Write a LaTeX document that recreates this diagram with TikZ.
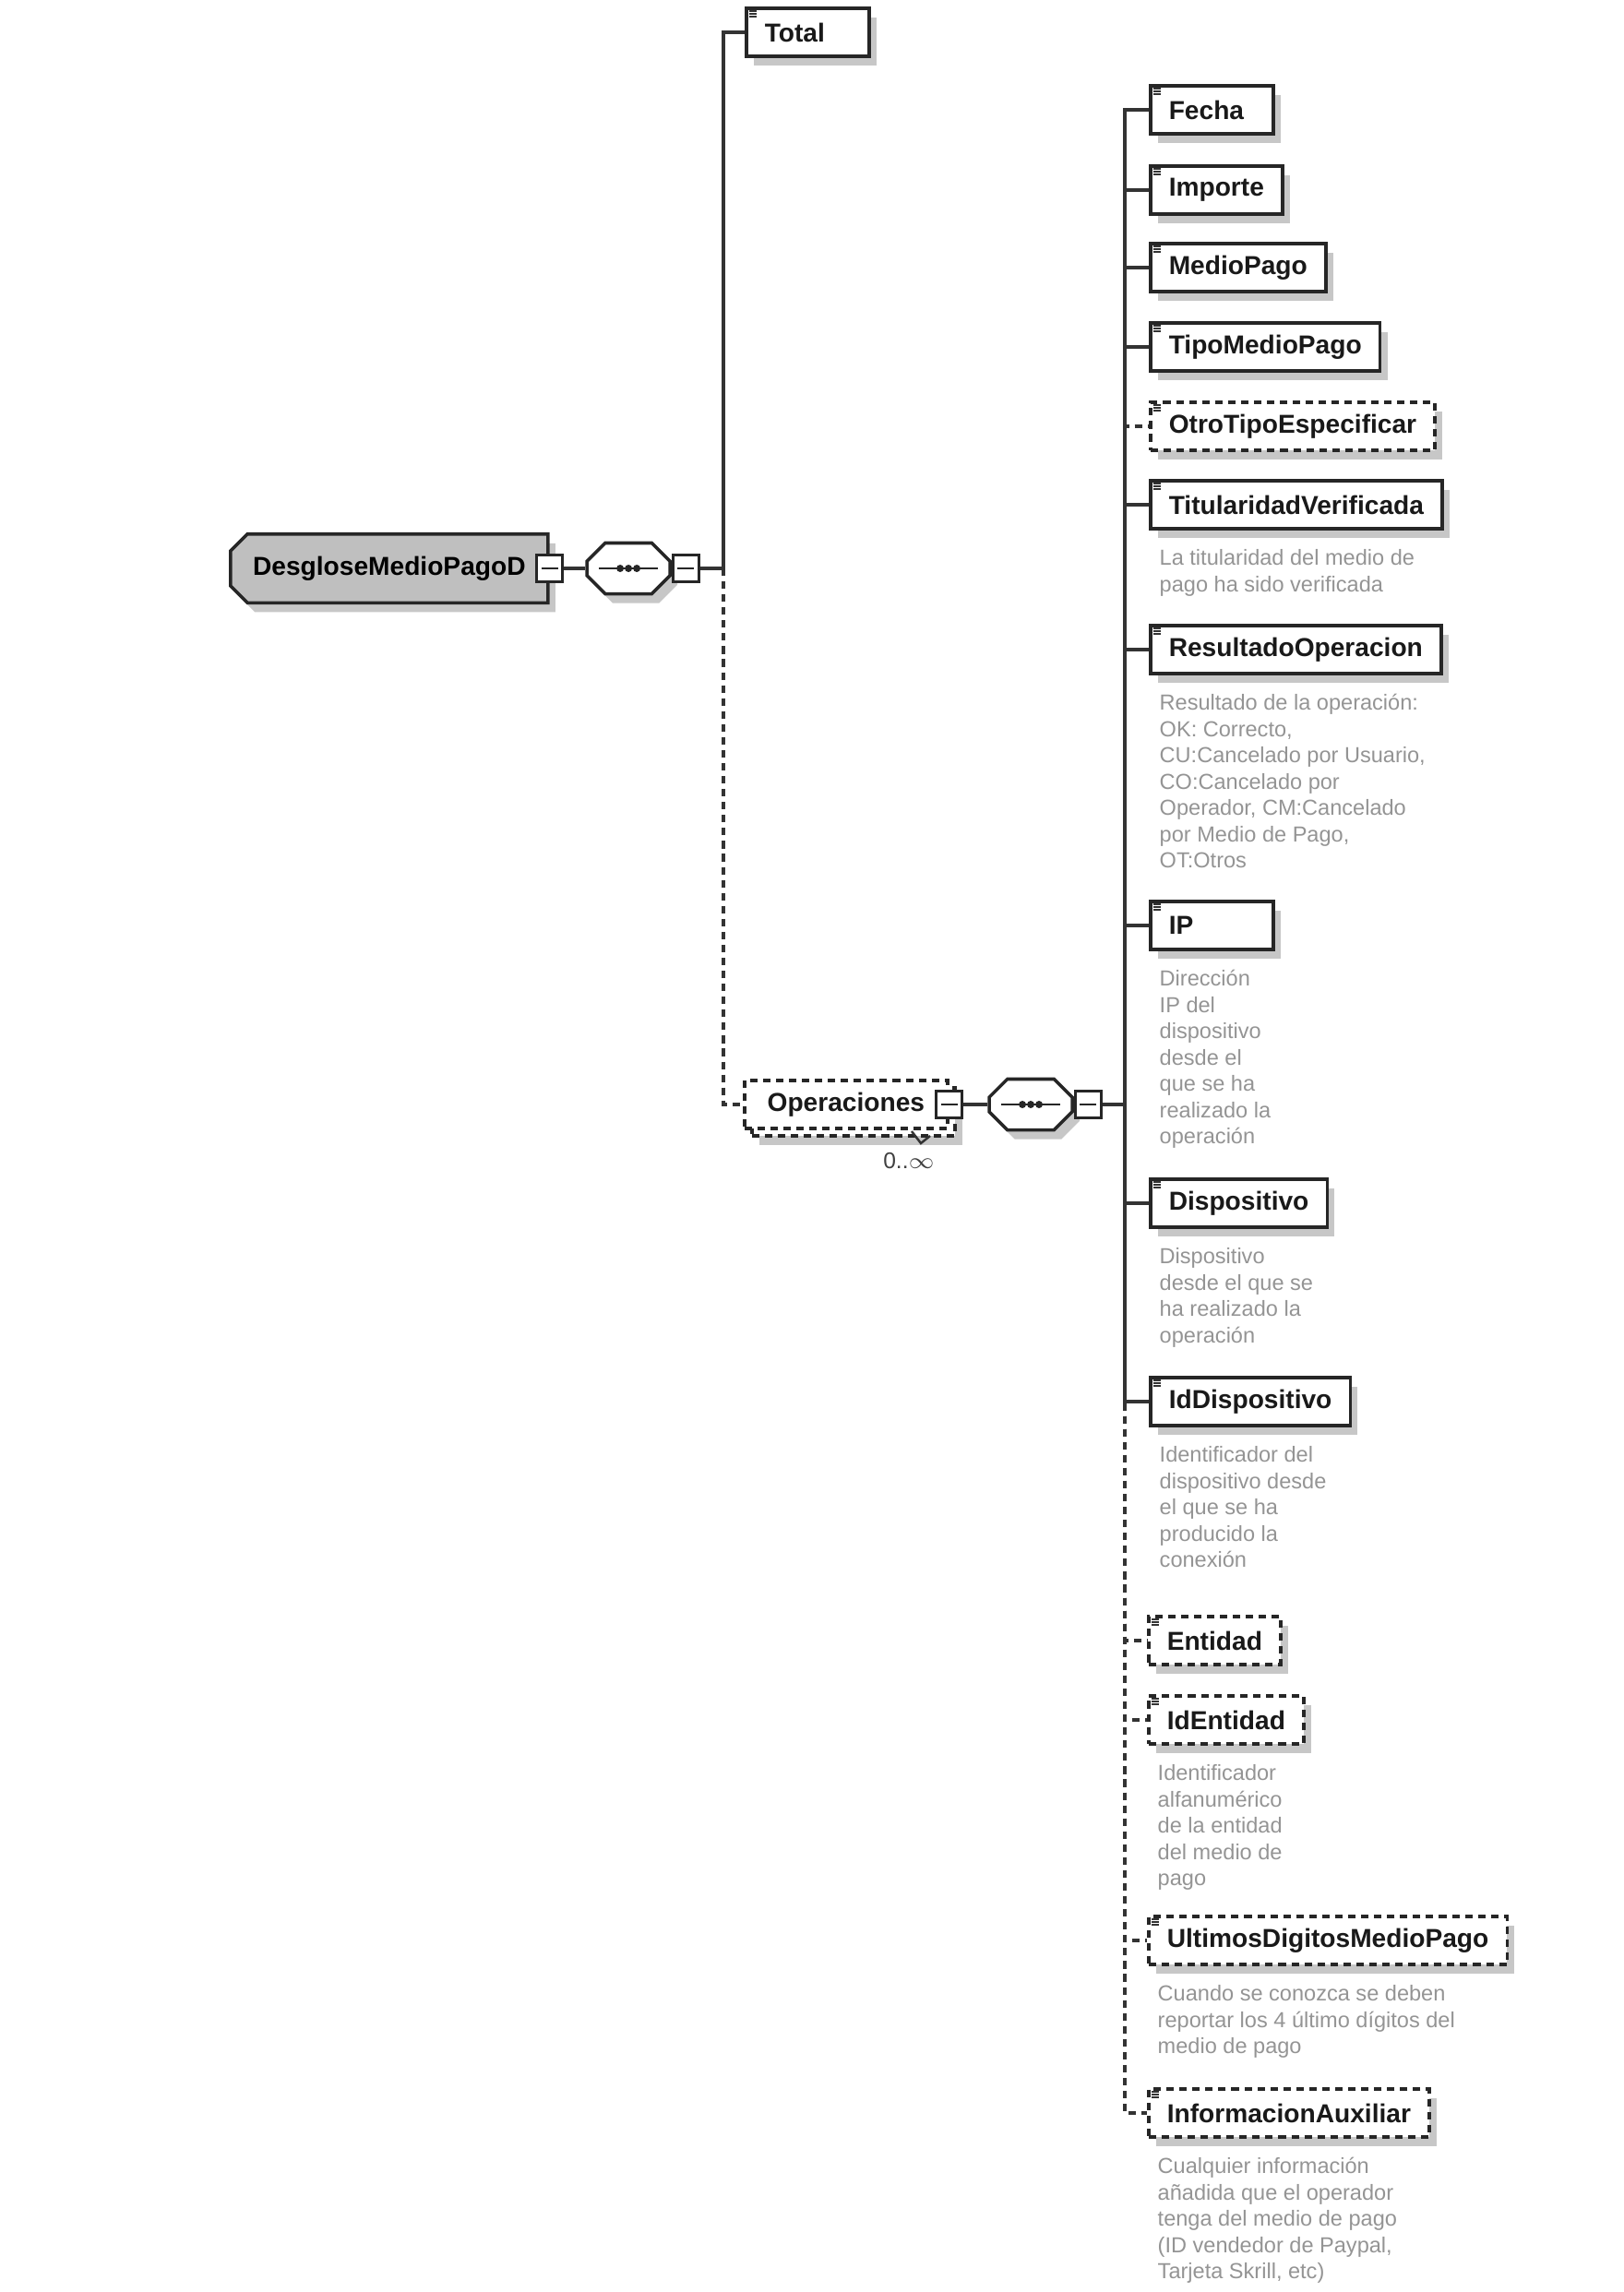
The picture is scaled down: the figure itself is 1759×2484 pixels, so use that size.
\documentclass[tikz,border=0pt]{standalone}
\usepackage{fontspec}
\setmainfont{Liberation Sans}
\usetikzlibrary{positioning, shapes.misc, shadows}

\begin{document}
\begin{tikzpicture} [x=0.01cm, y=-0.01cm,
		% define styles
		boxbase/.style={
			% The shape:
			rectangle,
			% The size:
			minimum height=0.52cm,
			minimum width=1.33cm,
			inner xsep=0.2cm,
			% The border:
			line width=1pt,
			draw=black!85,
			% The filling:
			fill=white,
			% Font
			text=black!90,
			font=\bfseries\fontsize{8}{9}\selectfont
		},
		shadowed/.style={
			drop shadow={shadow xshift=0.08cm, shadow yshift=-0.1cm, fill=black!22, opacity=1}
		},
		elemstyle/.style={boxbase, shadowed},
		optstyle/.style={
			elemstyle,
			dash pattern=on 2.3pt off 1.7pt
		},
		shortstyle/.style={text width=0.93cm},
		rootstyle/.style={
			% The shape:
			chamfered rectangle,
			chamfered rectangle corners={north west, south west},
			chamfered rectangle xsep=0.06cm,
			% The size:
			minimum height=0.55cm,
			minimum width=3.44cm,
			% The border:
			line width=1pt,
			draw=black!85,
			% The filling:
			fill=black!25,
			shadowed,
			% Font
			font=\bfseries\fontsize{8}{9}\selectfont
		},
		seqstyle/.style={
			% The shape:
			chamfered rectangle,
			chamfered rectangle xsep=0.08cm,
			% The size:
			minimum height=0.55cm,
			minimum width=0.9cm,
			% The border:
			line width=1pt,
			draw=black!85,
			fill=white,
			shadowed,
			% the dotted line inside
			path picture={
				\draw [line width=0.7pt] ([xshift=0.13cm]path picture bounding box.west) -- ([xshift=-0.13cm]path picture bounding box.east);
				\foreach \dx in {-0.09,0,0.09}
					\fill [black!85] ([xshift=\dx cm]path picture bounding box.center) circle [radius=0.04cm];
			}
		},
		minusstyle/.style={
			rectangle,
			minimum width=0.28cm,
			minimum height=0.29cm,
			inner sep=0pt,
			line width=0.9pt,
			draw=black!85,
			fill=white,
			path picture={
				\draw [line width=0.8pt] ([xshift=0.05cm]path picture bounding box.west) -- ([xshift=-0.05cm]path picture bounding box.east);
			}
		},
		descstyle/.style={
			inner sep=0pt,
			align=left,
			text=black!42,
			font=\fontsize{6.7}{8.1}\selectfont
		},
		conn/.style={
			line width=0.9pt,
			black!80
		},
		optconn/.style={
			conn,
			dash pattern=on 2.3pt off 1.7pt
		}]
		% end of style definition

		\useasboundingbox (0,0) rectangle (1759,2484);

		% draw nodes
		\node (iRoot) [rootstyle, anchor=west] at (248,616) {DesgloseMedioPagoD};
		\node (iRootMinus) [minusstyle] at (iRoot.east) {};
		\node (iSeqA) [seqstyle, right=0.23cm of iRootMinus] {};
		\node (iSeqAMinus) [minusstyle, anchor=west] at (iSeqA.east) {};

		\node (iTotal) [elemstyle, shortstyle, anchor=west] at (807,35) {Total};

		% repeated element: box behind, then the front one
		\node (iOperBack) [boxbase, shadowed, dash pattern=on 2.3pt off 1.7pt, anchor=west, minimum width=2.2cm] at (813,1205) {\phantom{Operaciones}};
		\node (iOperaciones) [boxbase, dash pattern=on 2.3pt off 1.7pt, anchor=west, minimum width=2.2cm] at (805,1197) {Operaciones};
		\node (iOperMinus) [minusstyle] at (iOperaciones.east) {};
		\node (iOperCount) [text=black!75, font=\fontsize{7}{8}\selectfont] at (985,1258) {0..$\infty$};
		\draw [line width=0.7pt, black!80] (988,1226) -- (998,1239) -- (1008,1231);

		\node (iSeqB) [seqstyle, right=0.26cm of iOperMinus] {};
		\node (iSeqBMinus) [minusstyle, anchor=west] at (iSeqB.east) {};

		\node (iFecha) [elemstyle, shortstyle, anchor=west] at (1245,119) {Fecha};
		\node (iImporte) [elemstyle, anchor=west] at (1245,206) {Importe};
		\node (iMedioPago) [elemstyle, anchor=west] at (1245,290) {MedioPago};
		\node (iTipoMedioPago) [elemstyle, anchor=west] at (1245,376) {TipoMedioPago};
		\node (iOtroTipo) [optstyle, anchor=west] at (1245,462) {OtroTipoEspecificar};
		\node (iTitularidad) [elemstyle, anchor=west] at (1245,547) {TitularidadVerificada};
		\node (iResultado) [elemstyle, anchor=west] at (1245,704) {ResultadoOperacion};
		\node (iIP) [elemstyle, shortstyle, anchor=west] at (1245,1003) {IP};
		\node (iDispositivo) [elemstyle, anchor=west] at (1245,1304) {Dispositivo};
		\node (iIdDispositivo) [elemstyle, anchor=west] at (1245,1519) {IdDispositivo};
		\node (iEntidad) [optstyle, anchor=west] at (1243,1778) {Entidad};
		\node (iIdEntidad) [optstyle, anchor=west] at (1243,1864) {IdEntidad};
		\node (iUltimos) [optstyle, anchor=west] at (1243,2103) {UltimosDigitosMedioPago};
		\node (iInfoAux) [optstyle, anchor=west] at (1243,2290) {InformacionAuxiliar};

		% small icons in the corner of the boxes
		\foreach \n in {iTotal, iFecha, iImporte, iMedioPago, iTipoMedioPago, iOtroTipo, iTitularidad, iResultado, iIP, iDispositivo, iIdDispositivo, iEntidad, iIdEntidad, iUltimos, iInfoAux} {
			\foreach \dy in {5,8,11}
				\draw [line width=0.5pt, black!80] ([shift={(5,\dy)}]\n.north west) -- ++(8,0);
		}

		% annotations
		\node (dTitularidad) [descstyle, below right=0.2cm and 0.11cm of iTitularidad.south west] {La titularidad del medio de\\pago ha sido verificada};
		\node (dResultado) [descstyle, below right=0.2cm and 0.11cm of iResultado.south west] {Resultado de la operación:\\OK: Correcto,\\CU:Cancelado por Usuario,\\CO:Cancelado por\\Operador, CM:Cancelado\\por Medio de Pago,\\OT:Otros};
		\node (dIP) [descstyle, below right=0.2cm and 0.11cm of iIP.south west] {Dirección\\IP del\\dispositivo\\desde el\\que se ha\\realizado la\\operación};
		\node (dDispositivo) [descstyle, below right=0.2cm and 0.11cm of iDispositivo.south west] {Dispositivo\\desde el que se\\ha realizado la\\operación};
		\node (dIdDispositivo) [descstyle, below right=0.2cm and 0.11cm of iIdDispositivo.south west] {Identificador del\\dispositivo desde\\el que se ha\\producido la\\conexión};
		\node (dIdEntidad) [descstyle, below right=0.2cm and 0.11cm of iIdEntidad.south west] {Identificador\\alfanumérico\\de la entidad\\del medio de\\pago};
		\node (dUltimos) [descstyle, below right=0.2cm and 0.11cm of iUltimos.south west] {Cuando se conozca se deben\\reportar los 4 último dígitos del\\medio de pago};
		\node (dInfoAux) [descstyle, below right=0.2cm and 0.11cm of iInfoAux.south west] {Cualquier información\\añadida que el operador\\tenga del medio de pago\\(ID vendedor de Paypal,\\Tarjeta Skrill, etc)};

		% connect nodes
		\draw [conn] (iRootMinus) -- (iSeqA);
		\draw [conn] (iSeqAMinus.east) -- ++(25,0) coordinate (cA) |- (iTotal.west);
		\draw [optconn] (cA) |- (iOperaciones.west);

		\draw [conn] (iOperMinus) -- (iSeqB);
		\draw [conn] (iSeqBMinus.east) -- ++(24,0) coordinate (cB);
		\foreach \n in {iFecha, iImporte, iMedioPago, iTipoMedioPago, iTitularidad, iResultado, iIP, iDispositivo, iIdDispositivo}
			\draw [conn] (cB) |- (\n.west);
		\foreach \n in {iOtroTipo, iEntidad, iIdEntidad, iUltimos, iInfoAux}
			\draw [optconn] (cB) |- (\n.west);
	\end{tikzpicture}
\end{document}
